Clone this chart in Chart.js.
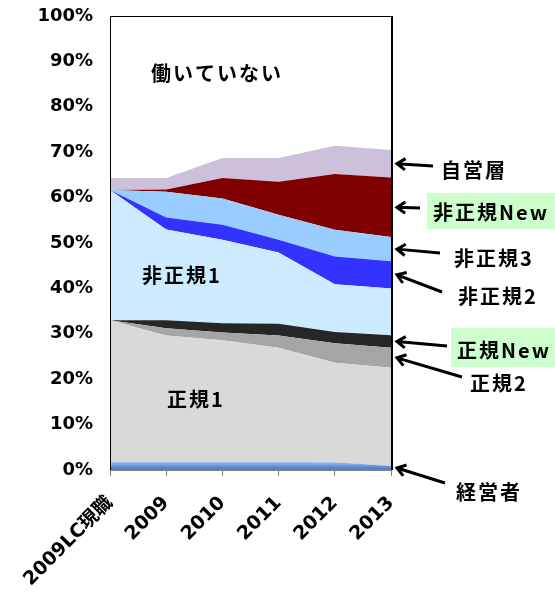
<!DOCTYPE html>
<html>
<head>
<meta charset="utf-8">
<script src="https://cdn.jsdelivr.net/npm/chart.js@4/dist/chart.umd.min.js"></script>
<style>
  html, body { margin: 0; padding: 0; background: #fff; }
  #wrap { width: 555px; height: 599px; position: relative; }
</style>
</head>
<body>
<div id="wrap"><canvas id="areaChart" width="555" height="599"></canvas></div>
<script>
// Categories
const years = ['2009LC現職', '2009', '2010', '2011', '2012', '2013'];

// Series values (%), stacked bottom to top
const keieisha     = [1.8, 1.8, 1.8, 1.8, 1.7, 0.9];
const seiki1       = [31.2, 27.8, 26.8, 25.1, 21.9, 21.6];
const seiki2       = [0, 1.6, 1.7, 2.7, 4.3, 4.4];
const seikiNew     = [0, 1.8, 2.0, 2.6, 2.5, 2.8];
const hiseiki1     = [28.7, 20.0, 18.4, 15.7, 10.5, 10.3];
const hiseiki2     = [0, 2.6, 3.3, 2.8, 6.1, 6.0];
const hiseiki3     = [0, 5.7, 5.8, 5.5, 5.9, 5.3];
const hiseikiNew   = [0, 0.5, 4.5, 7.3, 12.3, 13.1];
const jieisou      = [2.6, 2.5, 4.4, 5.2, 6.2, 6.1];

// Y tick labels
const yTicks = [0, 10, 20, 30, 40, 50, 60, 70, 80, 90, 100];

const yFont = { family: '"DejaVu Sans", "Noto Sans CJK JP", sans-serif', size: 18, weight: 'bold' };
const xFont = { family: '"DejaVu Sans", "Noto Sans CJK JP", sans-serif', size: 19, weight: 'bold' };
const jpFont = 'bold 20px "Noto Sans CJK JP", "DejaVu Sans", sans-serif';

function keieishaFill(context) {
    const chart = context.chart;
    const { ctx, chartArea, scales } = chart;
    if (!chartArea) return '#6b96dc';
    const top = scales.y.getPixelForValue(2);
    const g = ctx.createLinearGradient(0, top, 0, chartArea.bottom);
    g.addColorStop(0, '#b4ccf0');
    g.addColorStop(0.45, '#75a0e2');
    g.addColorStop(1, '#3f70c8');
    return g;
}

function layer(label, data, color, first) {
    return {
        label: label,
        data: data,
        backgroundColor: color,
        borderWidth: 0,
        pointRadius: 0,
        tension: 0,
        fill: first ? 'origin' : '-1'
    };
}

// Side notes: which dataset the arrow points at, label centre and arrow tail
const notes = [
    { text: '自営層', ds: 8, tx: 474, ty: 170, tail: [433, 166] },
    { text: '非正規New', ds: 7, tx: 491, ty: 212, tail: [420, 208], box: [427, 193, 128, 36] },
    { text: '非正規3', ds: 6, tx: 494, ty: 258, tail: [440, 253] },
    { text: '非正規2', ds: 5, tx: 498, ty: 296, tail: [442, 292] },
    { text: '正規New', ds: 3, tx: 504, ty: 350, tail: [447, 346], box: [451, 328, 104, 39] },
    { text: '正規2', ds: 2, tx: 499, ty: 383, tail: [462, 377] },
    { text: '経営者', ds: 0, tx: 489, ty: 492, tail: [445, 483] }
];

// Labels inside the plot
const inner = [
    { text: '働いていない', x: 217, y: 73 },
    { text: '非正規1', x: 182, y: 275 },
    { text: '正規1', x: 196, y: 399 }
];

function drawArrow(ctx, x1, y1, x2, y2) {
    const ang = Math.atan2(y2 - y1, x2 - x1);
    const head = 10;
    ctx.beginPath();
    ctx.moveTo(x1, y1);
    ctx.lineTo(x2, y2);
    ctx.moveTo(x2 - head * Math.cos(ang - 0.6), y2 - head * Math.sin(ang - 0.6));
    ctx.lineTo(x2, y2);
    ctx.lineTo(x2 - head * Math.cos(ang + 0.6), y2 - head * Math.sin(ang + 0.6));
    ctx.stroke();
}

const framePlugin = {
    id: 'frame',
    afterDatasetsDraw(chart) {
        const { ctx, chartArea: a } = chart;
        ctx.save();
        // bottom axis line
        ctx.strokeStyle = '#7f7f7f';
        ctx.lineWidth = 2;
        ctx.beginPath();
        ctx.moveTo(a.left, a.bottom);
        ctx.lineTo(a.right + 1, a.bottom);
        ctx.stroke();
        // left and top
        ctx.strokeStyle = '#000';
        ctx.lineWidth = 1;
        ctx.beginPath();
        ctx.moveTo(a.left + 0.5, a.bottom);
        ctx.lineTo(a.left + 0.5, a.top + 0.5);
        ctx.lineTo(a.right, a.top + 0.5);
        ctx.stroke();
        // right
        ctx.lineWidth = 2;
        ctx.beginPath();
        ctx.moveTo(a.right + 1, a.top);
        ctx.lineTo(a.right + 1, a.bottom);
        ctx.stroke();
        ctx.restore();
    },
    afterDraw(chart) {
        const { ctx, chartArea: a, scales } = chart;
        const last = years.length - 1;
        ctx.save();
        ctx.font = jpFont;
        ctx.textAlign = 'center';
        ctx.textBaseline = 'middle';
        ctx.letterSpacing = '2px';
        ctx.fillStyle = '#000';
        inner.forEach(t => ctx.fillText(t.text, t.x, t.y));

        notes.forEach(n => {
            // middle of the band at the last category
            let base = 0;
            for (let i = 0; i < n.ds; i++) base += chart.data.datasets[i].data[last];
            const mid = base + chart.data.datasets[n.ds].data[last] / 2;
            const tipY = scales.y.getPixelForValue(mid);
            const tipX = a.right + 6;
            if (n.box) {
                ctx.fillStyle = '#ccffcc';
                ctx.fillRect(n.box[0], n.box[1], n.box[2], n.box[3]);
            }
            ctx.strokeStyle = '#000';
            ctx.lineWidth = 3;
            drawArrow(ctx, n.tail[0], n.tail[1], tipX, tipY);
            ctx.fillStyle = '#000';
            ctx.fillText(n.text, n.tx, n.ty);
        });
        ctx.restore();
    }
};

document.addEventListener('DOMContentLoaded', () => {
    const ctx = document.getElementById('areaChart').getContext('2d');
    new Chart(ctx, {
        type: 'line',
        data: {
            labels: years,
            datasets: [
                layer('経営者', keieisha, keieishaFill, true),
                layer('正規1', seiki1, '#d9d9d9'),
                layer('正規2', seiki2, '#a5a5a5'),
                layer('正規New', seikiNew, '#262626'),
                layer('非正規1', hiseiki1, '#ccebff'),
                layer('非正規2', hiseiki2, '#3333ff'),
                layer('非正規3', hiseiki3, '#99ccff'),
                layer('非正規New', hiseikiNew, '#800000'),
                layer('自営層', jieisou, '#ccc0da')
            ]
        },
        options: {
            responsive: false,
            animation: false,
            layout: { padding: { left: 0, right: 164, top: 16, bottom: 0 } },
            plugins: {
                legend: { display: false },
                tooltip: { enabled: false }
            },
            scales: {
                x: {
                    offset: false,
                    grid: { display: true, drawOnChartArea: false, drawTicks: true, tickLength: 6, color: '#7f7f7f', lineWidth: 1 },
                    border: { display: false },
                    ticks: { color: '#000', font: xFont, minRotation: 45, maxRotation: 45, padding: 16, autoSkip: false },
                    afterFit: scale => { scale.height = 129; }
                },
                y: {
                    stacked: true,
                    min: 0,
                    max: 100,
                    afterBuildTicks: scale => { scale.ticks = yTicks.map(v => ({ value: v })); },
                    grid: { display: true, drawOnChartArea: false, drawTicks: true, tickLength: 17, color: 'rgba(0,0,0,0)' },
                    border: { display: false },
                    ticks: { color: '#000', font: yFont, padding: 0, callback: v => v + '%' },
                    afterFit: scale => { scale.width = 110; }
                }
            }
        },
        plugins: [framePlugin]
    });
});
</script>
</body>
</html>
